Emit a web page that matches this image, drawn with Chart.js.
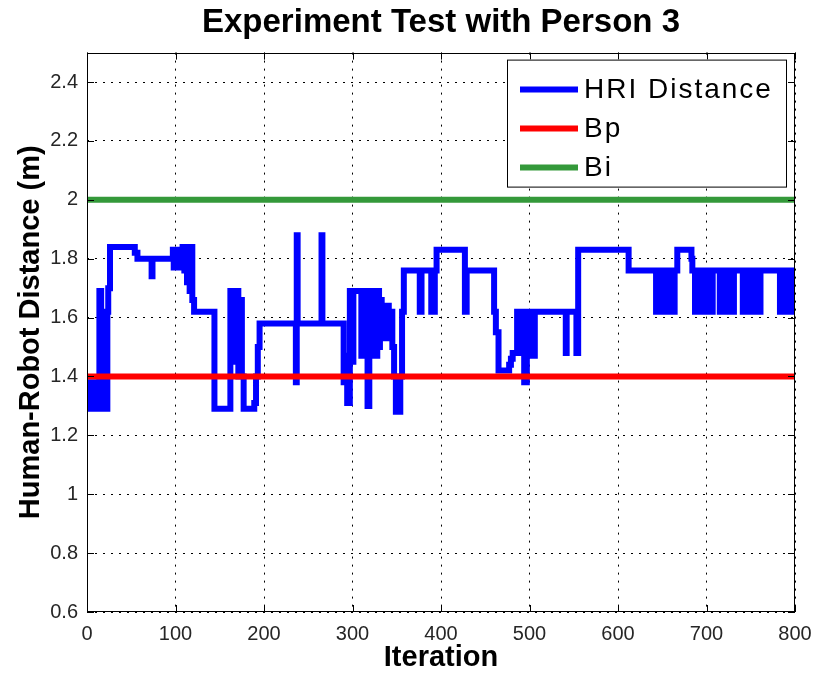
<!DOCTYPE html>
<html>
<head>
<meta charset="utf-8">
<title>Experiment Test with Person 3</title>
<script src="https://cdn.jsdelivr.net/npm/chart.js@4.4.1/dist/chart.umd.min.js"></script>
<style>
  html, body { margin: 0; padding: 0; background: #fff; }
</style>
</head>
<body>
<canvas id="distChart" width="814" height="679"></canvas>
<script>
// axis ticks
const xTicks = [0, 100, 200, 300, 400, 500, 600, 700, 800];
const yTicks = [0.6, 0.8, 1, 1.2, 1.4, 1.6, 1.8, 2, 2.2, 2.4];

// measured human-robot distance, [iteration where the value starts, distance in m]
const hriSteps = [
  [0, 1.29], [2, 1.38], [3, 1.29], [5, 1.38], [6, 1.29], [8, 1.38], [9, 1.29], [11, 1.38],
  [12, 1.29], [14, 1.69], [16, 1.29], [19, 1.62], [20, 1.29], [23, 1.62], [24, 1.70], [26, 1.84],
  [54, 1.82], [57, 1.80], [73, 1.74], [74, 1.80], [97, 1.83], [98, 1.77], [100, 1.83], [102, 1.77],
  [104, 1.80], [106, 1.77], [108, 1.84], [110, 1.76], [111, 1.84], [113, 1.72], [114, 1.84], [116, 1.69],
  [118, 1.84], [119, 1.66], [121, 1.62], [144, 1.29], [162, 1.69], [166, 1.45], [168, 1.69], [171, 1.40],
  [172, 1.66], [175, 1.40], [177, 1.29], [189, 1.31], [191, 1.40], [193, 1.50], [195, 1.58], [236, 1.38],
  [237, 1.88], [238, 1.58], [265, 1.88], [266, 1.58], [290, 1.38], [292, 1.47], [294, 1.31], [297, 1.69],
  [299, 1.45], [301, 1.69], [310, 1.47], [311, 1.69], [317, 1.30], [319, 1.69], [323, 1.47], [324, 1.69],
  [327, 1.47], [328, 1.69], [330, 1.50], [331, 1.66], [333, 1.64], [337, 1.53], [338, 1.64], [341, 1.53],
  [342, 1.62], [345, 1.50], [347, 1.40], [349, 1.28], [354, 1.40], [356, 1.62], [358, 1.76], [376, 1.62],
  [378, 1.76], [389, 1.62], [390, 1.76], [391, 1.62], [393, 1.76], [395, 1.83], [427, 1.62], [429, 1.76],
  [460, 1.62], [462, 1.55], [465, 1.42], [477, 1.44], [479, 1.46], [481, 1.48], [486, 1.62], [488, 1.48],
  [490, 1.62], [494, 1.38], [497, 1.62], [501, 1.47], [503, 1.62], [505, 1.47], [506, 1.62], [541, 1.48],
  [542, 1.62], [553, 1.48], [555, 1.83], [612, 1.76], [643, 1.62], [644, 1.76], [645, 1.62], [646, 1.70],
  [647, 1.62], [648, 1.76], [649, 1.62], [650, 1.76], [652, 1.62], [653, 1.76], [659, 1.62], [660, 1.76],
  [661, 1.62], [662, 1.76], [663, 1.62], [664, 1.76], [667, 1.83], [683, 1.80], [684, 1.76], [687, 1.62],
  [689, 1.76], [691, 1.62], [693, 1.76], [695, 1.62], [697, 1.76], [699, 1.62], [701, 1.76], [703, 1.62],
  [705, 1.76], [706, 1.62], [707, 1.76], [715, 1.62], [717, 1.76], [719, 1.62], [721, 1.76], [723, 1.62],
  [725, 1.76], [727, 1.62], [729, 1.76], [730, 1.62], [731, 1.76], [741, 1.62], [743, 1.76], [745, 1.62],
  [747, 1.76], [749, 1.62], [751, 1.76], [755, 1.62], [757, 1.76], [759, 1.62], [761, 1.76], [783, 1.62],
  [785, 1.76], [787, 1.62], [789, 1.76], [791, 1.62], [793, 1.76], [795, 1.62], [797, 1.76], [799, 1.62],
  [800, 1.62]
];

// distance bounds
const boundIters = [0, 800];
const bpValues = [1.4, 1.4];
const biValues = [2, 2];

const toPoints = (xs, ys) => xs.map((x, i) => ({ x: x, y: ys[i] }));

// box around the axes, inward tick marks and the legend inside the plot
const axesFrame = {
  id: 'axesFrame',
  afterDatasetsDraw(chart) {
    const { ctx, chartArea: a, scales } = chart;
    ctx.save();
    ctx.strokeStyle = '#000';
    ctx.lineWidth = 1;
    ctx.beginPath();
    yTicks.forEach(v => {
      const y = Math.round(scales.y.getPixelForValue(v)) + 0.5;
      ctx.moveTo(a.left, y); ctx.lineTo(a.left + 7, y);
      ctx.moveTo(a.right, y); ctx.lineTo(a.right - 7, y);
    });
    xTicks.forEach(v => {
      const x = Math.round(scales.x.getPixelForValue(v)) + 0.5;
      ctx.moveTo(x, a.bottom); ctx.lineTo(x, a.bottom - 7);
      ctx.moveTo(x, a.top); ctx.lineTo(x, a.top + 7);
    });
    ctx.stroke();
    ctx.strokeRect(Math.round(a.left) + 0.5, Math.round(a.top) + 0.5,
      Math.round(a.right - a.left) - 1, Math.round(a.bottom - a.top) - 1);

    // legend
    const bx = a.right - 288, by = a.top + 7, bw = 280, bh = 128;
    ctx.fillStyle = '#fff';
    ctx.fillRect(bx, by, bw, bh);
    ctx.strokeRect(bx + 0.5, by + 0.5, bw - 1, bh - 1);
    ctx.font = '28px "Liberation Sans", Arial, sans-serif';
    ctx.letterSpacing = '2px';
    ctx.textBaseline = 'middle';
    chart.data.datasets.forEach((ds, i) => {
      const y = by + 30 + i * 39;
      ctx.strokeStyle = ds.borderColor;
      ctx.lineWidth = ds.borderWidth;
      ctx.beginPath();
      ctx.moveTo(bx + 13, y); ctx.lineTo(bx + 71, y);
      ctx.stroke();
      ctx.fillStyle = '#000';
      ctx.fillText(ds.label, bx + 77, y + 1);
    });
    ctx.restore();
  }
};

const ctx = document.getElementById('distChart').getContext('2d');
const tickFont = { family: '"Liberation Sans", Arial, sans-serif', size: 20 };
const titleFont = { family: '"Liberation Sans", Arial, sans-serif', size: 29, weight: 'bold' };

new Chart(ctx, {
  type: 'line',
  data: {
    datasets: [{
      label: 'HRI Distance',
      data: hriSteps.map(p => ({ x: p[0], y: p[1] })),
      borderColor: '#0000ff',
      borderWidth: 6,
      stepped: true,
      order: 3
    }, {
      label: 'Bp',
      data: toPoints(boundIters, bpValues),
      borderColor: '#ff0000',
      borderWidth: 6,
      order: 2
    }, {
      label: 'Bi',
      data: toPoints(boundIters, biValues),
      borderColor: '#34993a',
      borderWidth: 6,
      order: 1
    }]
  },
  options: {
    responsive: false,
    animation: false,
    clip: 0,
    elements: {
      point: { radius: 0 },
      line: { borderCapStyle: 'butt', borderJoinStyle: 'miter', tension: 0 }
    },
    layout: { padding: { left: 10, right: 0, top: 0, bottom: 0 } },
    plugins: {
      legend: { display: false },
      tooltip: { enabled: false },
      title: {
        display: true,
        fullSize: false,
        text: 'Experiment Test with Person 3',
        color: '#000',
        font: { family: '"Liberation Sans", Arial, sans-serif', size: 33, weight: 'bold' },
        padding: { top: 3, bottom: 10 }
      }
    },
    scales: {
      x: {
        type: 'linear',
        min: 0,
        max: 800,
        afterBuildTicks: scale => { scale.ticks = xTicks.map(v => ({ value: v })); },
        afterFit: scale => {
          scale.height = 67;
          scale.paddingLeft = 0;
          scale.paddingRight = 19;
        },
        grid: { color: '#000', drawTicks: false, lineWidth: 1 },
        border: { display: false, dash: [2, 6] },
        ticks: { color: '#262626', font: tickFont, padding: 10, maxRotation: 0, callback: v => String(v) },
        title: { display: true, text: 'Iteration', color: '#000', font: titleFont, padding: { top: 0, bottom: 4 } }
      },
      y: {
        type: 'linear',
        min: 0.6,
        max: 2.5,
        afterBuildTicks: scale => { scale.ticks = yTicks.map(v => ({ value: v })); },
        afterFit: scale => { scale.width = 77; },
        grid: { color: '#000', drawTicks: false, lineWidth: 1 },
        border: { display: false, dash: [2, 6] },
        ticks: { color: '#262626', font: tickFont, padding: 9, callback: v => String(+v.toFixed(1)) },
        title: { display: true, text: 'Human-Robot Distance (m)', color: '#000', font: titleFont, padding: { top: 4, bottom: 0 } }
      }
    }
  },
  plugins: [axesFrame]
});
</script>
</body>
</html>
